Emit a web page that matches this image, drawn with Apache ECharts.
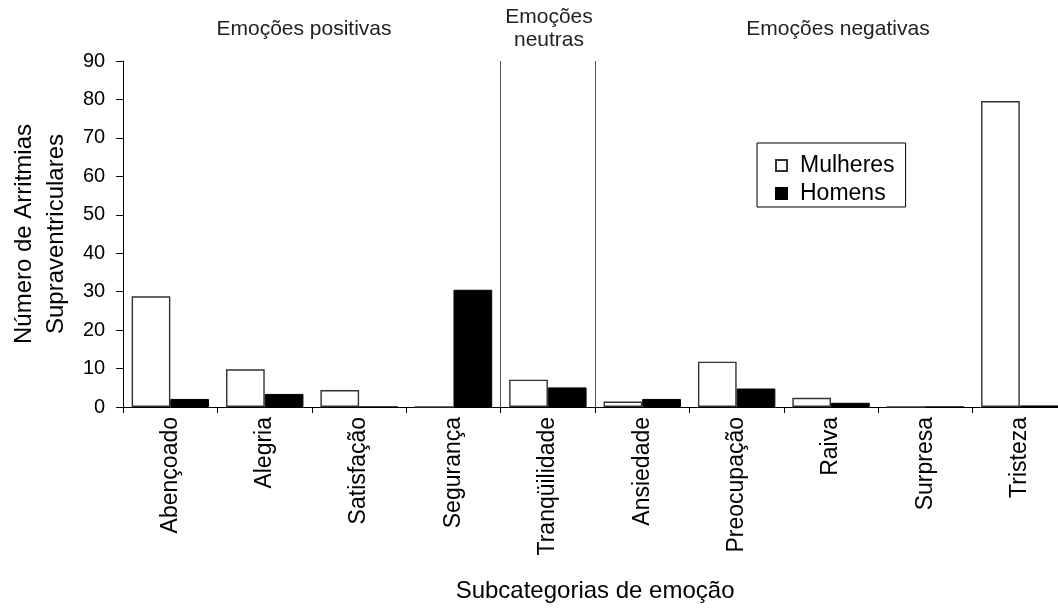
<!DOCTYPE html>
<html><head><meta charset="utf-8">
<script src="https://cdn.jsdelivr.net/npm/echarts@6/dist/echarts.min.js"></script>
<style>html,body{margin:0;padding:0;background:#fff;overflow:hidden;width:1058px;height:608px}#c{width:1067px;height:608px}</style>
</head><body><div id="c"></div>
<script>
const categories = ['Abençoado','Alegria','Satisfação','Segurança','Tranqüilidade','Ansiedade','Preocupação','Raiva','Surpresa','Tristeza'];
const mulheres = [28.8, 9.8, 4.4, 0, 7.1, 1.4, 11.8, 2.4, 0, 79.6];
const homens = [2.1, 3.4, 0, 30.5, 5.1, 2.1, 4.8, 1.1, 0, 0.4];
const yTicks = [0,10,20,30,40,50,60,70,80,90];
const groupLabels = ['Emoções positivas','Emoções\nneutras','Emoções negativas'];

const F = 'Liberation Sans, Arial, sans-serif';
const chart = echarts.init(document.getElementById('c'), null, {renderer:'canvas'});
chart.setOption({
  animation:false,
  backgroundColor:'#fff',
  textStyle:{fontFamily:F},
  grid:{left:122, top:61, bottom:200, right:0, containLabel:false},
  legend:{
    orient:'vertical', left:757, top:143,
    padding:[11,11,2,18], itemGap:5,
    borderColor:'#000', borderWidth:1,
    icon:'rect', itemWidth:11, itemHeight:11,
    textStyle:{fontSize:23, color:'#000', fontFamily:F, padding:[0,0,0,8]},
    data:['Mulheres','Homens']
  },
  xAxis:{
    type:'category', data:categories,
    name:'Subcategorias de emoção', nameLocation:'middle', nameGap:172,
    nameTextStyle:{fontSize:24, color:'#000', fontFamily:F, verticalAlign:'top'},
    axisLine:{lineStyle:{color:'#000', width:1}},
    axisTick:{show:true, length:6, lineStyle:{color:'#000'}},
    axisLabel:{rotate:90, fontSize:23, color:'#000', fontFamily:F, margin:10, interval:0},
    splitLine:{show:true, interval:function(i){return i===4||i===5;}, lineStyle:{color:'#555', width:1}}
  },
  yAxis:{
    type:'value', min:0, max:90, interval:10,
    name:'Número de Arritmias\nSupraventriculares', nameLocation:'middle', nameGap:50,
    nameTextStyle:{fontSize:24, color:'#000', fontFamily:F, lineHeight:32},
    axisLine:{show:true, lineStyle:{color:'#000', width:1}},
    axisTick:{show:true, length:7, lineStyle:{color:'#000'}},
    axisLabel:{fontSize:20, color:'#000', fontFamily:F, margin:18,
      formatter:function(v){return yTicks.indexOf(v)>=0?String(v):'';}},
    splitLine:{show:false}
  },
  series:[
    {name:'Mulheres', type:'bar', data:mulheres, barGap:'0%', barCategoryGap:'18%',
     itemStyle:{color:'#fff', borderColor:'#333', borderWidth:1.4}},
    {name:'Homens', type:'bar', data:homens,
     itemStyle:{color:'#000', borderColor:'#000', borderWidth:1}}
  ],
  graphic:[
    {type:'text', x:304, y:29, style:{text:groupLabels[0], fontSize:21, fill:'#222', fontFamily:F, align:'center', verticalAlign:'middle'}},
    {type:'text', x:549, y:29, style:{text:groupLabels[1], fontSize:21, fill:'#222', fontFamily:F, align:'center', verticalAlign:'middle', lineHeight:23}},
    {type:'text', x:838, y:29, style:{text:groupLabels[2], fontSize:21, fill:'#222', fontFamily:F, align:'center', verticalAlign:'middle'}}
  ]
});
</script></body></html>
